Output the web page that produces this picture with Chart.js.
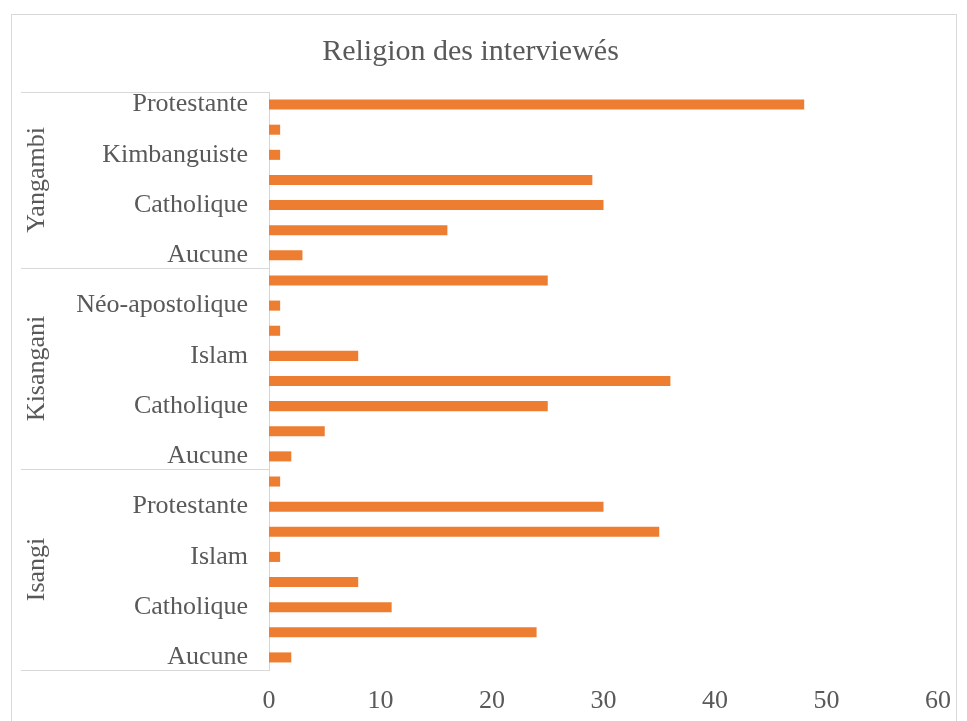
<!DOCTYPE html>
<html>
<head>
<meta charset="utf-8">
<script src="https://cdn.jsdelivr.net/npm/chart.js@4/dist/chart.umd.min.js"></script>
<style>
  html, body { margin: 0; padding: 0; background: #fff; }
  canvas { display: block; }
</style>
</head>
<body>
<canvas id="religionChart" width="967" height="721"></canvas>
<script>
// données (de bas en haut, comme dans Excel)
// les étiquettes vides sont celles qu'Excel n'affiche pas (une sur deux)
var groups = ['Isangi', 'Kisangani', 'Yangambi'];

var isangiCats = ['Aucune', '', 'Catholique', '', 'Islam', '', 'Protestante', ''];
var isangiValues = [2, 24, 11, 8, 1, 35, 30, 1];

var kisanganiCats = ['Aucune', '', 'Catholique', '', 'Islam', '', 'Néo-apostolique', ''];
var kisanganiValues = [2, 5, 25, 36, 8, 1, 1, 25];

var yangambiCats = ['Aucune', '', 'Catholique', '', 'Kimbanguiste', '', 'Protestante'];
var yangambiValues = [3, 16, 30, 29, 1, 1, 48];

var xMin = 0, xMax = 60, xStep = 10;

var groupCats = [isangiCats, kisanganiCats, yangambiCats];
var labels = isangiCats.concat(kisanganiCats, yangambiCats);
var values = isangiValues.concat(kisanganiValues, yangambiValues);

var textColor = '#595959';
var lineColor = '#d9d9d9';
var serif = "'Liberation Serif', 'Times New Roman', serif";

// cadre du graphique + étiquettes de groupe (axe à deux niveaux)
var groupAxisPlugin = {
    id: 'groupAxis',
    beforeDraw: function (chart) {
        var ctx = chart.ctx;
        ctx.save();
        ctx.fillStyle = '#fff';
        ctx.fillRect(0, 0, chart.width, chart.height);
        ctx.strokeStyle = lineColor;
        ctx.lineWidth = 1;
        ctx.strokeRect(11.5, 14.5, 945, 720);
        ctx.restore();
    },
    afterDraw: function (chart) {
        var ctx = chart.ctx;
        var y = chart.scales.y;
        var left = chart.chartArea.left;
        var half = Math.abs(y.getPixelForValue(1) - y.getPixelForValue(0)) / 2;
        ctx.save();
        ctx.strokeStyle = lineColor;
        ctx.lineWidth = 1;
        var start = 0;
        groups.forEach(function (name, g) {
            var end = start + groupCats[g].length - 1;
            var yBottom = y.getPixelForValue(start) + half;
            var yTop = y.getPixelForValue(end) - half;
            [yBottom, yTop].forEach(function (py) {
                ctx.beginPath();
                ctx.moveTo(21, Math.round(py) + 0.5);
                ctx.lineTo(left, Math.round(py) + 0.5);
                ctx.stroke();
            });
            ctx.save();
            ctx.translate(37, (yBottom + yTop) / 2);
            ctx.rotate(-Math.PI / 2);
            ctx.fillStyle = textColor;
            ctx.font = '26px ' + serif;
            ctx.textAlign = 'center';
            ctx.textBaseline = 'middle';
            ctx.fillText(name, 0, 0);
            ctx.restore();
            start = end + 1;
        });
        ctx.restore();
    }
};

var religionChart = new Chart(document.getElementById('religionChart').getContext('2d'), {
    type: 'bar',
    data: {
        labels: labels,
        datasets: [{
            label: 'Religion des interviewés',
            data: values,
            backgroundColor: '#ED7D31',
            barPercentage: 0.4,
            categoryPercentage: 1.0
        }]
    },
    plugins: [groupAxisPlugin],
    options: {
        indexAxis: 'y',
        responsive: false,
        animation: false,
        devicePixelRatio: 1,
        layout: {
            padding: { left: 0, right: 26, top: 0, bottom: 0 }
        },
        plugins: {
            legend: { display: false },
            tooltip: { enabled: false },
            title: {
                display: true,
                text: 'Religion des interviewés',
                color: textColor,
                font: { family: serif, size: 30, weight: 'normal' },
                padding: { top: 34, bottom: 22 }
            }
        },
        scales: {
            x: {
                min: xMin,
                max: xMax,
                ticks: {
                    stepSize: xStep,
                    color: textColor,
                    font: { family: serif, size: 26 },
                    padding: 16
                },
                grid: { display: false, drawTicks: false },
                border: { display: false },
                afterFit: function (scale) {
                    scale.height = 51;
                }
            },
            y: {
                reverse: true,
                ticks: {
                    autoSkip: false,
                    color: textColor,
                    font: { family: serif, size: 26 },
                    padding: 21
                },
                grid: { display: false, drawTicks: false },
                border: { display: true, color: '#d0d6de', width: 1 },
                afterFit: function (scale) {
                    scale.width = 269;
                }
            }
        }
    }
});
</script>
</body>
</html>
